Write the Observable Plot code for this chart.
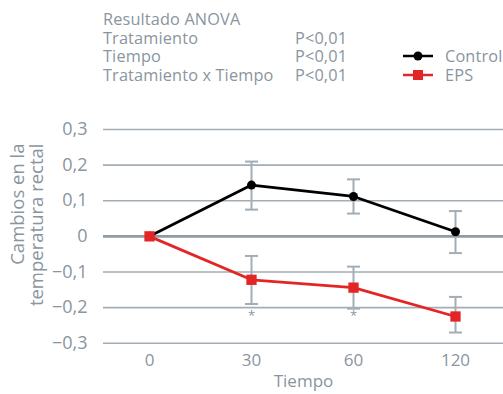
<!DOCTYPE html>
<html><head><meta charset="utf-8">
<script src="https://cdn.jsdelivr.net/npm/d3@7"></script>
<script src="https://cdn.jsdelivr.net/npm/@observablehq/plot@0.6"></script>
<style>
body{margin:0;background:#fff;font-family:"Open Sans",Lato,sans-serif;color:#8a959e;}
#wrap{width:503px;height:394px;position:relative;overflow:hidden;}
#head{position:absolute;left:0;top:0;width:503px;height:100px;font-size:16.3px;line-height:18.5px;letter-spacing:0.15px;}
.t{position:absolute;white-space:pre;}
#chart{position:absolute;left:0;top:100px;}
</style></head>
<body><div id="wrap"><div id="head"></div><div id="chart"></div></div>
<script>
const times = ["0","30","60","120"];
const controlMean = [0, 0.144, 0.112, 0.013];
const controlLow  = [0, 0.075, 0.064, -0.047];
const controlHigh = [0, 0.21, 0.16, 0.071];
const epsMean = [0, -0.122, -0.144, -0.225];
const epsLow  = [0, -0.19, -0.203, -0.27];
const epsHigh = [0, -0.055, -0.085, -0.17];
const sigTimes = ["30","60"];
const yTicks = [-0.3,-0.2,-0.1,0,0.1,0.2,0.3];
const anovaTitle = "Resultado ANOVA";
const anovaRows = ["Tratamiento","Tiempo","Tratamiento x Tiempo"];
const anovaP = ["P<0,01","P<0,01","P<0,01"];
const seriesNames = ["Control","EPS"];
const colors = ["#000000","#e42525"];
const gray = "#8a959e", gridGray = "#a3adb5";

// header: each column is one text block
const head = document.getElementById("head");
function addText(txt, x, y){const d=document.createElement("div");d.className="t";d.textContent=txt;d.style.left=x+"px";d.style.top=y+"px";head.appendChild(d);}
addText([anovaTitle,...anovaRows].join("\n"),103,10);
addText(anovaP.join("\n"),295,28.5);
// legend
const svgNS="http://www.w3.org/2000/svg";
seriesNames.forEach((n,i)=>{
  const y=56+i*18.5;
  const s=document.createElementNS(svgNS,"svg");
  s.setAttribute("width",32);s.setAttribute("height",14);
  s.style.position="absolute";s.style.left="402px";s.style.top=(y-7)+"px";
  const l=document.createElementNS(svgNS,"line");
  l.setAttribute("x1",1);l.setAttribute("x2",31);l.setAttribute("y1",7);l.setAttribute("y2",7);
  l.setAttribute("stroke",colors[i]);l.setAttribute("stroke-width",2.5);s.appendChild(l);
  if(i===0){const c=document.createElementNS(svgNS,"circle");c.setAttribute("cx",16);c.setAttribute("cy",7);c.setAttribute("r",4.5);c.setAttribute("fill",colors[i]);s.appendChild(c);}
  else{const r=document.createElementNS(svgNS,"rect");r.setAttribute("x",11);r.setAttribute("y",2);r.setAttribute("width",10);r.setAttribute("height",10);r.setAttribute("fill",colors[i]);s.appendChild(r);}
  head.appendChild(s);
});
addText(seriesNames.join("\n"),445,47);

const rows = [];
times.forEach((t,i)=>{
  rows.push({series:"Control",time:t,mean:controlMean[i],low:controlLow[i],high:controlHigh[i]});
  rows.push({series:"EPS",time:t,mean:epsMean[i],low:epsLow[i],high:epsHigh[i]});
});
const errRows = rows.filter(d=>d.time!=="0");
const ctrl = rows.filter(d=>d.series==="Control");
const eps = rows.filter(d=>d.series==="EPS");
const fmt = d => d===0 ? "0" : d.toFixed(1).replace(".",",").replace("-","−");
const capSymbol = {draw(ctx){ctx.moveTo(-6.5,0);ctx.lineTo(6.5,0);}};

const plot = Plot.plot({
  width:503, height:294,
  marginLeft:103, marginRight:0, marginTop:29, marginBottom:51.3,
  style:{fontFamily:"'Open Sans', Lato, sans-serif", fontSize:"17px", color:gray, background:"#fff"},
  x:{type:"point", domain:times, range:[148,456], padding:0, label:null},
  y:{domain:[-0.3,0.3], label:null},
  marks:[
    Plot.ruleY(yTicks.filter(d=>d!==0),{stroke:gridGray,strokeWidth:1.6}),
    Plot.ruleY([0],{stroke:"#909ba4",strokeWidth:2.6}),
    Plot.axisY({ticks:yTicks, tickFormat:fmt, tickSize:0, tickPadding:16, fontSize:18, label:null}),
    Plot.axisX({tickSize:0, tickPadding:11, fontSize:17, label:null}),
    Plot.ruleX(errRows,{x:"time",y1:"low",y2:"high",stroke:gridGray,strokeWidth:2}),
    Plot.dot(errRows,{x:"time",y:"low",symbol:capSymbol,stroke:gridGray,strokeWidth:2,fill:"none"}),
    Plot.dot(errRows,{x:"time",y:"high",symbol:capSymbol,stroke:gridGray,strokeWidth:2,fill:"none"}),
    Plot.line(eps,{x:"time",y:"mean",stroke:colors[1],strokeWidth:2.8}),
    Plot.line(ctrl,{x:"time",y:"mean",stroke:colors[0],strokeWidth:2.8}),
    Plot.dot(ctrl,{x:"time",y:"mean",r:4.5,fill:colors[0]}),
    Plot.dot(eps,{x:"time",y:"mean",symbol:"square",r:5.8,fill:colors[1]}),
    Plot.text(sigTimes,{x:d=>d,y:-0.224,text:()=>"*",fontSize:13,fill:gray}),
    Plot.text(["Tiempo"],{frameAnchor:"bottom",dy:44,fontSize:17,fill:gray}),
    Plot.text(["Cambios en la\ntemperatura rectal"],{frameAnchor:"top-left",rotate:-90,textAnchor:"end",lineAnchor:"middle",dx:-76.5,dy:14,fontSize:18.5,fill:gray,lineHeight:1.03})
  ]
});
document.getElementById("chart").appendChild(plot);
</script></body></html>
